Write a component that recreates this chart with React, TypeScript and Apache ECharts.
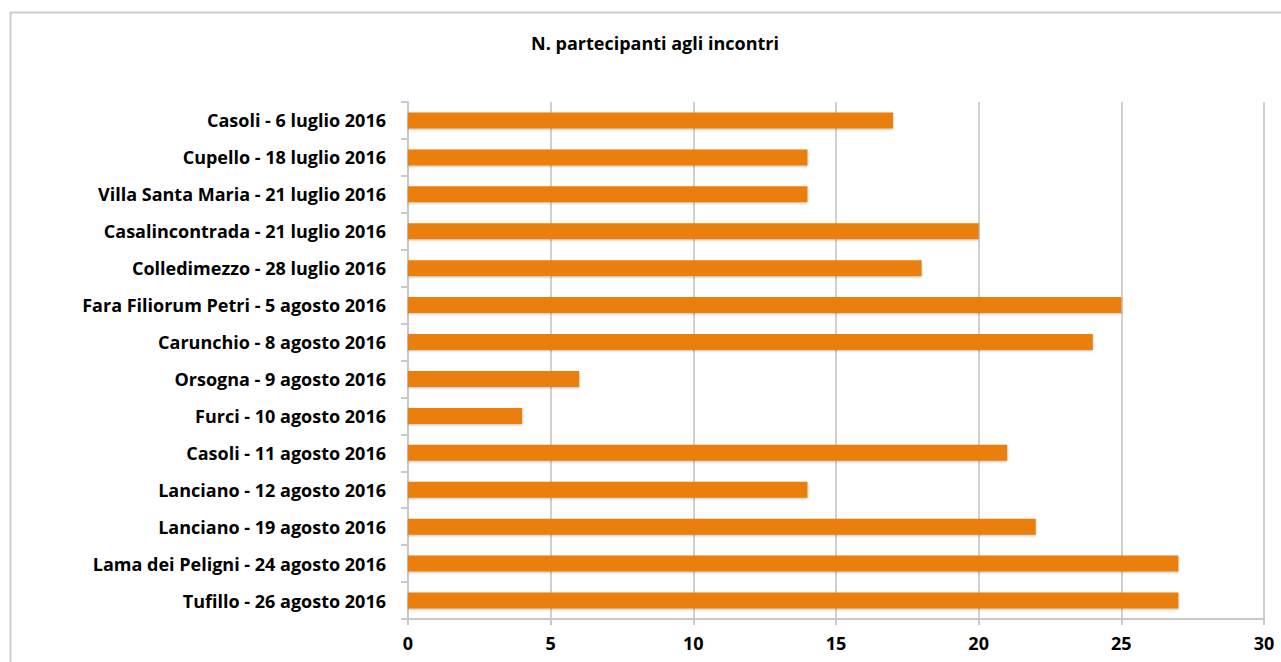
import React, { useEffect, useRef } from "react";
import * as echarts from "echarts";

const titleText = "N. partecipanti agli incontri";
const categories = [
  "Casoli - 6 luglio 2016",
  "Cupello - 18 luglio 2016",
  "Villa Santa Maria - 21 luglio 2016",
  "Casalincontrada - 21 luglio 2016",
  "Colledimezzo - 28 luglio 2016",
  "Fara Filiorum Petri - 5 agosto 2016",
  "Carunchio - 8 agosto 2016",
  "Orsogna - 9 agosto 2016",
  "Furci - 10 agosto 2016",
  "Casoli - 11 agosto 2016",
  "Lanciano - 12 agosto 2016",
  "Lanciano - 19 agosto 2016",
  "Lama dei Peligni - 24 agosto 2016",
  "Tufillo - 26 agosto 2016",
];
const values = [17, 14, 14, 20, 18, 25, 24, 6, 4, 21, 14, 22, 27, 27];

const FONT = "Open Sans";

export default function App() {
  const ref = useRef<HTMLDivElement>(null);
  useEffect(() => {
    const chart = echarts.init(ref.current!, null, { renderer: "svg" });
    chart.setOption({
      animation: false,
      backgroundColor: "#fff",
      title: {
        text: titleText,
        left: 650,
        top: 29,
        textAlign: "center",
        textStyle: { fontFamily: FONT, fontWeight: "bold", fontSize: 18, color: "#000" },
      },
      graphic: [
        {
          type: "rect",
          shape: { x: 10.5, y: 12.5, width: 1300, height: 700 },
          style: { fill: "none", stroke: "#cccccc", lineWidth: 2 },
          silent: true,
        },
      ],
      grid: { left: 408, right: 17, top: 102, bottom: 43, containLabel: false },
      xAxis: {
        type: "value",
        min: 0,
        max: 30,
        interval: 5,
        axisLine: { show: true, lineStyle: { color: "#c8c8c8", width: 2 } },
        axisTick: { show: true, length: 6, lineStyle: { color: "#c8c8c8", width: 2 } },
        splitLine: { show: true, lineStyle: { color: "#d0d0d0", width: 2 } },
        axisLabel: {
          fontFamily: FONT,
          fontWeight: "bold",
          fontSize: 18,
          color: "#000",
          margin: 15,
        },
      },
      yAxis: {
        type: "category",
        data: categories,
        inverse: true,
        axisLine: { show: true, lineStyle: { color: "#c8c8c8", width: 2 } },
        axisTick: { show: true, length: 7, lineStyle: { color: "#c8c8c8", width: 2 } },
        axisLabel: {
          fontFamily: FONT,
          fontWeight: "bold",
          fontSize: 18,
          color: "#000",
          margin: 22,
        },
      },
      series: [
        {
          type: "bar",
          data: values,
          barWidth: 16,
          itemStyle: {
            color: "#EB7F08",
            shadowColor: "rgba(0,0,0,0.25)",
            shadowBlur: 2,
            shadowOffsetY: 1,
          },
        },
      ],
    });
    return () => chart.dispose();
  }, []);
  return (
    <div
      ref={ref}
      style={{ position: "fixed", left: 0, top: 0, width: 1281, height: 662 }}
    />
  );
}
